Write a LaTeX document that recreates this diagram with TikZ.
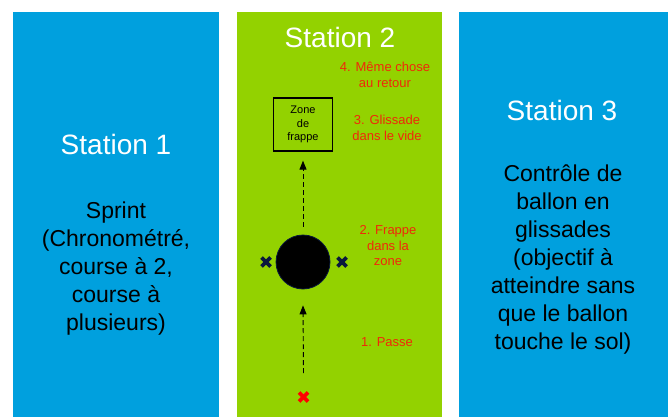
\documentclass[tikz,border=0pt]{standalone}
\usepackage{fontspec}
\setmainfont{Liberation Sans}
\usetikzlibrary{arrows.meta}
\definecolor{panelblue}{RGB}{0,160,222}
\definecolor{panelgreen}{RGB}{147,210,0}
\definecolor{steptext}{RGB}{240,40,10}
\definecolor{navyx}{RGB}{10,25,60}
\tikzset{
  panel/.style={draw=none, inner sep=0pt, anchor=north west},
  title/.style={text=white, font=\fontsize{28}{32}\selectfont},
  body/.style={text=black, align=center, font=\fontsize{23}{28}\selectfont},
  steplabel/.style={text=steptext, align=center, font=\fontsize{13}{15.5}\selectfont},
  zonebox/.style={draw=black, line width=1.3pt, minimum width=59pt, minimum height=53pt, align=center, font=\fontsize{11}{13.5}\selectfont, inner sep=0pt},
  ballstyle/.style={circle, fill=black, draw=navyx, line width=0.8pt, minimum size=54pt, inner sep=0pt},
  passarrow/.style={dashed, dash pattern=on 5pt off 3pt, line width=0.9pt, -{Triangle[width=7pt,length=9pt]}},
  xmark/.style={line width=3.6pt}
}
\begin{document}
\begin{tikzpicture}[x=1pt,y=-1pt]
\useasboundingbox (0,0) rectangle (668,417);
\fill[white] (0,0) rectangle (668,417);
% panels
\fill[panelblue] (13,12) rectangle (219,417);
\fill[panelgreen] (237,12) rectangle (442,417);
\fill[panelblue] (459,12) rectangle (668,417);
% station 1
\node[title] (t1) at (116,144) {Station 1};
\node[body] (b1) at (116,269) {Sprint\\(Chronométré,\\course à 2,\\course à\\plusieurs)};
% station 3
\node[title] (t3) at (562,110) {Station 3};
\node[body] (b3) at (563,260) {Contrôle de\\ballon en\\glissades\\(objectif à\\atteindre sans\\que le ballon\\touche le sol)};
% station 2
\node[title] (t2) at (340,37) {Station 2};
\node[steplabel] (s4) at (385,75) {4. Même chose\\au retour};
\node[steplabel] (s3) at (387,128) {3. Glissade\\dans le vide};
\node[steplabel] (s2) at (388,246) {2. Frappe\\dans la\\zone};
\node[steplabel] (s1) at (387,342) {1. Passe};
\node[zonebox] (zone) at (303,124.5) {Zone\\de\\frappe};
\node[ballstyle] (ball) at (303,262) {};
% crosses
\coordinate (xl) at (266,262);
\coordinate (xr) at (342,262);
\coordinate (xs) at (303.5,397);
\foreach \c/\col in {xl/navyx, xr/navyx, xs/red} {
  \draw[xmark, draw=\col] ([shift={(-4.5pt,-4.5pt)}]\c) -- ([shift={(4.5pt,4.5pt)}]\c);
  \draw[xmark, draw=\col] ([shift={(-4.5pt,4.5pt)}]\c) -- ([shift={(4.5pt,-4.5pt)}]\c);
}
% arrows
\coordinate (pstart) at (303.5,373);
\draw[passarrow] (pstart) -- ([yshift=-16pt]ball.south);
\draw[passarrow] ([yshift=8pt]ball.north) -- ([yshift=-9pt]zone.south);
\end{tikzpicture}
\end{document}
